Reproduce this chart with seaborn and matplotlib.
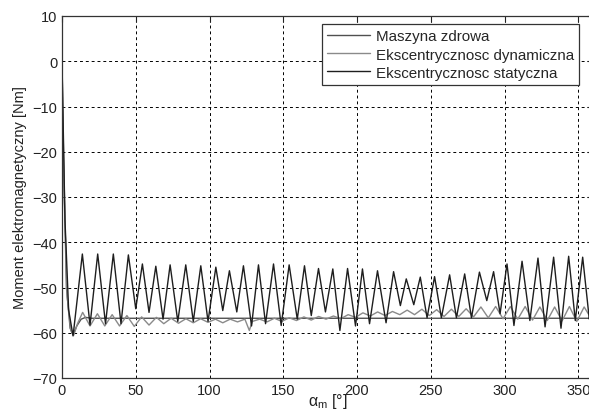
import matplotlib
matplotlib.use("Agg")
import matplotlib.pyplot as plt
import seaborn as sns
import pandas as pd

# healthy machine (flat after start transient)
zdrowa_deg = [0, 1, 3, 5.5, 7.5, 10, 13, 16, 20, 360]
zdrowa_val = [0, -20, -50, -59, -60.5, -58.5, -57, -56.6, -56.8, -56.8]

# dynamic eccentricity (small ripple)
dyn_deg = [0, 1.5, 3.5, 6, 8, 10.5, 14, 19, 24, 29, 34, 39, 44, 49, 54, 59, 64, 69, 74, 79,
           84, 89, 94, 99, 104, 109, 114, 119, 124, 127, 129, 134, 139, 144, 149, 154, 159,
           164, 169, 174, 179, 184, 189, 194, 199, 204, 209, 214, 219, 224, 229, 234, 239,
           244, 249, 254, 259, 264, 269, 274, 279, 284, 289, 294, 299, 304, 309, 314, 319,
           324, 329, 334, 339, 344, 349, 354, 359]
dyn_val = [-8, -30, -52, -59.5, -60.5, -58, -55.5, -58.5, -55.8, -58.5, -56, -58.5, -56.2, -58.6,
           -56.5, -58.3, -56.6, -58.0, -56.8, -57.9, -56.9, -57.8, -56.9, -57.7, -57.0, -57.8,
           -57.0, -57.6, -57.0, -59.5, -57.5, -57.0, -57.6, -56.8, -57.5, -56.7, -57.3, -56.5,
           -57.2, -56.4, -57.0, -56.3, -56.9, -56.0, -56.6, -55.6, -56.3, -55.4, -56.2, -55.3,
           -56.0, -55.0, -56.0, -54.8, -56.2, -54.9, -56.4, -54.8, -56.4, -54.7, -56.5, -54.3,
           -56.7, -54.2, -56.9, -54.2, -57.0, -54.2, -57.2, -54.3, -57.3, -54.3, -57.4, -54.2,
           -57.5, -54.3, -57.0]

# static eccentricity (large oscillation), extrema
stat_deg = [0, 2, 4.5, 7.5, 13.8, 19, 24.2, 29.5, 34.8, 40, 45.0, 50, 54.5, 59, 63.6, 68.5,
            73.3, 78.5, 83.9, 89, 94.1, 99, 104.3, 109, 113.5, 118.5, 123.0, 128.5, 133.2,
            138, 143.4, 148.6, 154.0, 159.5, 164.4, 169, 173.9, 178.6, 183.6, 188.4, 193.6,
            199, 203.7, 208.5, 213.9, 219.7, 224.8, 229.4, 233.4, 238.5, 242.9, 247.5, 252.6,
            257.2, 262.8, 267.4, 273.0, 277.6, 283.0, 288, 292.6, 297, 301.7, 306.4, 311.9,
            317.2, 322.7, 327.5, 333.3, 338.3, 343.5, 348, 353.0, 357.5, 360]
stat_val = [0, -35, -55, -60.7, -42.6, -58.3, -42.6, -58.0, -42.6, -58.0, -42.8, -54.7, -44.8,
            -55.5, -45.3, -57.0, -45.0, -57.5, -45.0, -57.5, -45.2, -57.5, -45.5, -55.1, -46.3,
            -55.4, -45.2, -58.5, -45.0, -58.0, -44.8, -58.4, -45.0, -57.0, -45.2, -56.2, -45.8,
            -55.4, -45.9, -59.5, -45.8, -58.5, -45.9, -58.0, -46.3, -57.8, -46.5, -54.0, -48.1,
            -53.8, -47.7, -56.7, -47.6, -56.7, -47.2, -56.7, -47.0, -56.7, -46.6, -52.9, -46.5,
            -55.8, -44.8, -58.4, -44.2, -57.3, -43.5, -58.7, -43.3, -59.0, -43.1, -57.3, -43.3,
            -57.0, -50.0]

labels = ["Maszyna zdrowa", "Ekscentrycznosc dynamiczna", "Ekscentrycznosc statyczna"]
colors = ["#505050", "#8a8a8a", "#1e1e1e"]

sns.set_style("white")
plt.rcParams["font.family"] = ["Liberation Sans", "DejaVu Sans"]
plt.rcParams["mathtext.fontset"] = "custom"
plt.rcParams["mathtext.rm"] = "Liberation Sans"
plt.rcParams["mathtext.it"] = "Liberation Sans"

fig = plt.figure(figsize=(5.89, 4.10), dpi=100)
ax = fig.add_axes([62 / 589, 1 - 379 / 410, 531 / 589, 362 / 410])

series = [(zdrowa_deg, zdrowa_val), (dyn_deg, dyn_val), (stat_deg, stat_val)]
for (xs, ys), lab, c in zip(series, labels, colors):
    df = pd.DataFrame({"deg": xs, "val": ys})
    sns.lineplot(data=df, x="deg", y="val", color=c, lw=1.0, label=lab, ax=ax, sort=False)

ax.set_xlim(0, 360)
ax.set_ylim(-70, 10)
ax.set_xticks(range(0, 351, 50))
ax.set_yticks(range(-70, 11, 10))
ax.grid(True, color="k", linestyle=(0, (3, 3)), lw=0.7)
ax.tick_params(direction="in", length=4, labelsize=10.5, colors="#222222", top=True, right=True)
for s in ax.spines.values():
    s.set_color("#333333")
    s.set_linewidth(0.9)

ax.set_ylabel("Moment elektromagnetyczny [Nm]", fontsize=10.5, color="#222222", labelpad=4)
ax.set_xlabel(r"$\alpha_m$ [°]", fontsize=11.5, color="#222222", labelpad=-4)

leg = ax.legend(loc="upper right", bbox_to_anchor=(579 / 589, 1 - 25 / 410),
                bbox_transform=fig.transFigure, borderaxespad=0, fancybox=False,
                framealpha=1, edgecolor="#333333", fontsize=10.9, handlelength=2.8,
                labelspacing=0.28, borderpad=0.35, handletextpad=0.4)
leg.get_frame().set_linewidth(0.9)

fig.savefig("out.png", dpi=100)
